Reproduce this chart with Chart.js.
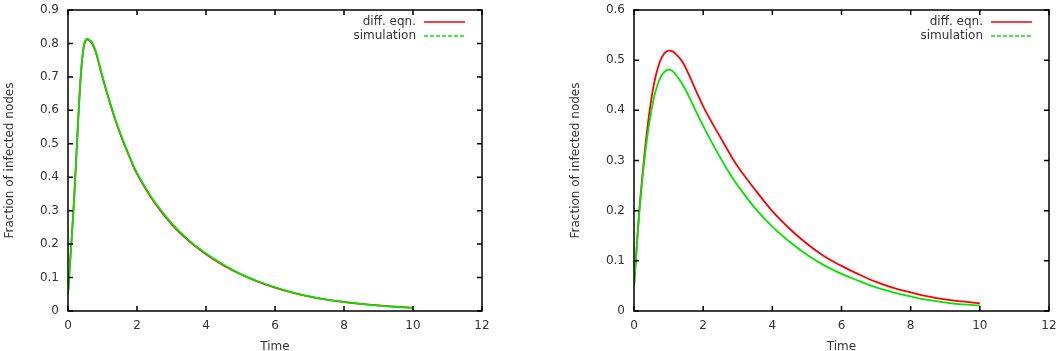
<!DOCTYPE html>
<html>
<head>
<meta charset="utf-8">
<script src="https://cdn.jsdelivr.net/npm/chart.js@4.4.1/dist/chart.umd.min.js"></script>
<style>
  html, body { margin: 0; padding: 0; background: #fff; }
  canvas { position: absolute; top: 0; }
  #left-chart { left: 0; }
  #right-chart { left: 530px; }
</style>
</head>
<body>
<canvas id="left-chart" width="530" height="351"></canvas>
<canvas id="right-chart" width="531" height="351"></canvas>
<script>
// Left panel: diff. eqn. and simulation almost on top of each other
const timeLeft = [0, 0.05, 0.1, 0.15, 0.2, 0.25, 0.3, 0.35, 0.4, 0.45, 0.5, 0.55, 0.6, 0.7, 0.8, 0.9,
  1.0, 1.2, 1.4, 1.6, 1.8, 2.0, 2.5, 3.0, 3.5, 4.0, 4.5, 5.0, 5.5, 6.0, 6.5, 7.0, 7.5, 8.0, 8.5, 9.0, 9.5, 10.0];
const diffEqnLeft = [0.05, 0.13, 0.21, 0.29, 0.38, 0.48, 0.58, 0.67, 0.74, 0.785, 0.806, 0.812, 0.81, 0.80, 0.775, 0.738,
  0.698, 0.627, 0.562, 0.506, 0.456, 0.41, 0.325, 0.26, 0.21, 0.17, 0.137, 0.11, 0.088, 0.07, 0.055, 0.043, 0.034, 0.027, 0.021, 0.017, 0.013, 0.01];
const simulationLeft = [0.05, 0.125, 0.205, 0.285, 0.378, 0.478, 0.58, 0.672, 0.744, 0.789, 0.809, 0.814, 0.812, 0.803, 0.778, 0.741,
  0.701, 0.63, 0.565, 0.509, 0.459, 0.413, 0.328, 0.263, 0.212, 0.172, 0.139, 0.111, 0.089, 0.071, 0.056, 0.044, 0.034, 0.027, 0.021, 0.016, 0.012, 0.009];

// Right panel: simulation runs below the diff. eqn.
const timeRight = [0, 0.05, 0.1, 0.15, 0.2, 0.3, 0.4, 0.5, 0.6, 0.7, 0.8, 0.9, 1.0, 1.1, 1.2, 1.4, 1.6, 1.8,
  2.0, 2.25, 2.5, 2.75, 3.0, 3.5, 4.0, 4.5, 5.0, 5.5, 6.0, 6.5, 7.0, 7.5, 8.0, 8.5, 9.0, 9.5, 10.0];
const diffEqnRight = [0.05, 0.1, 0.15, 0.197, 0.238, 0.31, 0.372, 0.422, 0.46, 0.487, 0.505, 0.515, 0.519, 0.518, 0.513, 0.497, 0.469, 0.438,
  0.408, 0.376, 0.346, 0.316, 0.288, 0.242, 0.199, 0.164, 0.134, 0.109, 0.09, 0.073, 0.058, 0.046, 0.037, 0.029, 0.023, 0.019, 0.015];
const simulationRight = [0.05, 0.098, 0.147, 0.193, 0.233, 0.3, 0.355, 0.398, 0.432, 0.455, 0.47, 0.478, 0.481, 0.479, 0.472, 0.452, 0.426, 0.397,
  0.369, 0.336, 0.305, 0.276, 0.25, 0.205, 0.168, 0.138, 0.112, 0.091, 0.074, 0.06, 0.047, 0.037, 0.029, 0.022, 0.017, 0.013, 0.011];

const xTicks = [0, 2, 4, 6, 8, 10, 12];
const yTicksLeft = [0, 0.1, 0.2, 0.3, 0.4, 0.5, 0.6, 0.7, 0.8, 0.9];
const yTicksRight = [0, 0.1, 0.2, 0.3, 0.4, 0.5, 0.6];
const seriesLabels = ['diff. eqn.', 'simulation'];
const seriesColors = ['#ff0000', '#00e600'];

const FONT = 'DejaVu Sans';
const TEXT_COLOR = '#333';

// gnuplot look: closed frame, inward ticks on all four sides, key in the top right corner
const gnuplotFrame = {
  id: 'gnuplotFrame',
  afterDraw(chart) {
    const ctx = chart.ctx;
    const a = chart.chartArea;
    const xs = chart.scales.x;
    const ys = chart.scales.y;
    ctx.save();
    ctx.strokeStyle = '#000';
    ctx.lineWidth = 1.5;
    ctx.strokeRect(a.left, a.top, a.right - a.left, a.bottom - a.top);
    ctx.beginPath();
    xs.ticks.forEach(t => {
      const px = xs.getPixelForValue(t.value);
      ctx.moveTo(px, a.bottom); ctx.lineTo(px, a.bottom - 5);
      ctx.moveTo(px, a.top); ctx.lineTo(px, a.top + 5);
    });
    ys.ticks.forEach(t => {
      const py = ys.getPixelForValue(t.value);
      ctx.moveTo(a.left, py); ctx.lineTo(a.left + 5, py);
      ctx.moveTo(a.right, py); ctx.lineTo(a.right - 5, py);
    });
    ctx.stroke();

    // key
    ctx.font = '12px "' + FONT + '"';
    ctx.textAlign = 'right';
    ctx.textBaseline = 'middle';
    chart.data.datasets.forEach((ds, i) => {
      const y = a.top + 12 + i * 14;
      ctx.fillStyle = TEXT_COLOR;
      ctx.fillText(ds.label, a.right - 66, y);
      ctx.strokeStyle = ds.borderColor;
      ctx.lineWidth = 1.5;
      ctx.setLineDash(i === 1 ? [4, 2] : []);
      ctx.beginPath();
      ctx.moveTo(a.right - 58, y);
      ctx.lineTo(a.right - 17, y);
      ctx.stroke();
    });
    ctx.restore();
  }
};

function makeChart(canvasId, times, diffEqn, simulation, yTicks, padLeft, padRight) {
  const ctx = document.getElementById(canvasId);
  const toPoints = values => values.map((v, i) => ({ x: times[i], y: v }));

  return new Chart(ctx, {
    type: 'line',
    data: {
      datasets: [
        { label: seriesLabels[0], data: toPoints(diffEqn), borderColor: seriesColors[0], order: 1 },
        { label: seriesLabels[1], data: toPoints(simulation), borderColor: seriesColors[1], order: 0 }
      ]
    },
    options: {
      responsive: false,
      animation: false,
      events: [],
      layout: { padding: { left: padLeft, right: padRight, top: 10, bottom: 0 } },
      elements: {
        point: { radius: 0 },
        line: { borderWidth: 1.8, tension: 0.4, fill: false }
      },
      plugins: {
        legend: { display: false },
        tooltip: { enabled: false }
      },
      scales: {
        x: {
          type: 'linear',
          min: 0,
          max: 12,
          afterBuildTicks: scale => { scale.ticks = xTicks.map(v => ({ value: v })); },
          afterFit: scale => {
            scale.height = 40;
            scale.paddingLeft = 0;
            scale.paddingRight = 0;
          },
          grid: { display: false, drawTicks: false },
          border: { display: false },
          ticks: { padding: 8, color: TEXT_COLOR, font: { family: FONT, size: 12 }, maxRotation: 0 },
          title: {
            display: true,
            text: 'Time',
            color: TEXT_COLOR,
            font: { family: FONT, size: 12, lineHeight: 0.75 },
            padding: 0
          }
        },
        y: {
          type: 'linear',
          min: 0,
          max: yTicks[yTicks.length - 1],
          afterBuildTicks: scale => { scale.ticks = yTicks.map(v => ({ value: v })); },
          afterFit: scale => {
            scale.width = 68;
            scale.paddingTop = 0;
            scale.paddingBottom = 0;
          },
          grid: { display: false, drawTicks: false },
          border: { display: false },
          ticks: {
            padding: 9,
            color: TEXT_COLOR,
            font: { family: FONT, size: 12 },
            callback: v => String(Math.round(v * 10) / 10)
          },
          title: {
            display: true,
            text: 'Fraction of infected nodes',
            color: TEXT_COLOR,
            font: { family: FONT, size: 12, lineHeight: 0.75 },
            padding: { top: 5.5, bottom: 0 }
          }
        }
      }
    },
    plugins: [gnuplotFrame]
  });
}

makeChart('left-chart', timeLeft, diffEqnLeft, simulationLeft, yTicksLeft, 0, 48);
makeChart('right-chart', timeRight, diffEqnRight, simulationRight, yTicksRight, 36, 12);
</script>
</body>
</html>
